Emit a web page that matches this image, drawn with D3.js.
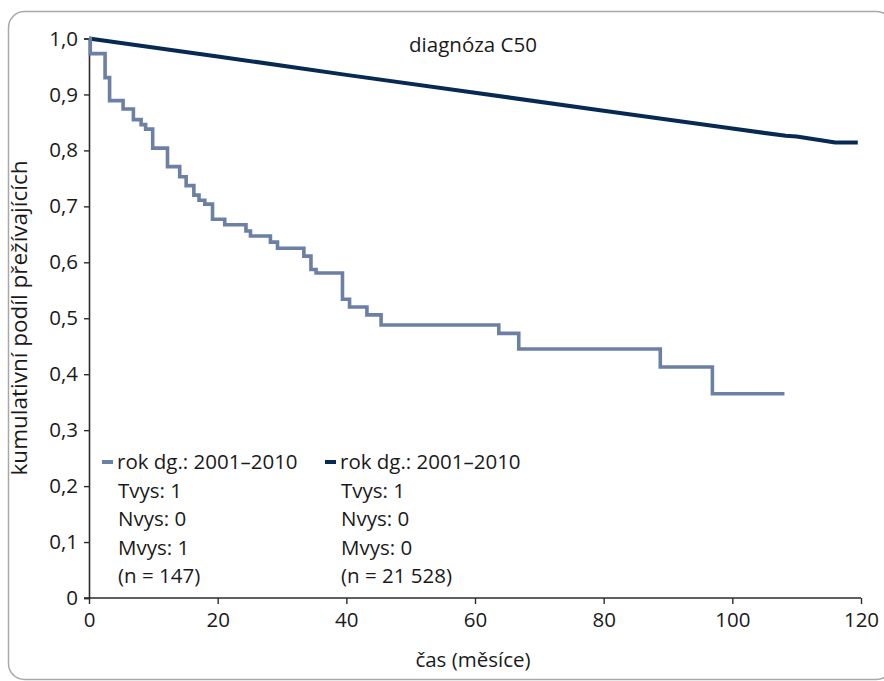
<!DOCTYPE html>
<html>
<head>
<meta charset="utf-8">
<script src="https://cdn.jsdelivr.net/npm/d3@7"></script>
<style>
  body { margin: 0; background: #fff; }
  svg text { font-family: "Open Sans", "Noto Sans", sans-serif; fill: #1a1a1a; }
</style>
</head>
<body>
<div id="chart"></div>
<script>
// Kaplan-Meier, small cohort (step curve)
const smallTime = [0, 0.2, 2.5, 3.2, 5.3, 6.9, 8.1, 8.8, 9.9, 12.2, 14.1, 15.1, 16.3, 17.1, 18.0, 19.2,
  21.1, 24.4, 25.1, 28.2, 29.3, 33.4, 34.5, 35.3, 39.4, 40.5, 43.2, 45.4, 63.7, 66.8, 88.8, 96.9, 108.1];
const smallSurv = [1.0, 0.973, 0.930, 0.889, 0.874, 0.855, 0.846, 0.838, 0.804, 0.771, 0.753, 0.737, 0.720, 0.711, 0.704, 0.677,
  0.667, 0.656, 0.647, 0.636, 0.625, 0.611, 0.587, 0.581, 0.534, 0.520, 0.506, 0.488, 0.473, 0.445, 0.413, 0.365, 0.365];

// whole population
const allTime = [0, 20, 40, 60, 80, 100, 108.3, 110, 116, 119.5];
const allSurv = [1.0, 0.968, 0.935, 0.903, 0.871, 0.839, 0.826, 0.825, 0.814, 0.814];

const xTicks = [0, 20, 40, 60, 80, 100, 120];
const yTicks = [0, 0.1, 0.2, 0.3, 0.4, 0.5, 0.6, 0.7, 0.8, 0.9, 1.0];

const legendItems = [
  { color: '#6b80a4', lines: ['rok dg.: 2001–2010', 'Tvys: 1', 'Nvys: 0', 'Mvys: 1', '(n = 147)'] },
  { color: '#082a52', lines: ['rok dg.: 2001–2010', 'Tvys: 1', 'Nvys: 0', 'Mvys: 0', '(n = 21 528)'] }
];

const width = 884, height = 681;
const margin = { top: 38.5, right: 23, bottom: 83, left: 89 };
const fontSize = '20.5px';

const svg = d3.select('#chart').append('svg')
  .attr('width', width)
  .attr('height', height);

// frame
svg.append('rect')
  .attr('x', 8.5).attr('y', 11.5)
  .attr('width', 884).attr('height', 668)
  .attr('rx', 16)
  .attr('fill', 'none')
  .attr('stroke', '#a8a8a8')
  .attr('stroke-width', 1.5);

const x = d3.scaleLinear().domain([0, 120]).range([margin.left, width - margin.right]);
const y = d3.scaleLinear().domain([0, 1]).range([height - margin.bottom, margin.top]);

const fmt = d => d === 0 ? '0' : d3.format('.1f')(d).replace('.', ',');

// axes
const yAxis = svg.append('g')
  .attr('transform', `translate(${margin.left},0)`)
  .call(d3.axisLeft(y).tickValues(yTicks).tickFormat(fmt).tickSize(5).tickPadding(6));

const xAxis = svg.append('g')
  .attr('transform', `translate(0,${height - margin.bottom})`)
  .call(d3.axisBottom(x).tickValues(xTicks).tickSize(6).tickPadding(8));

[xAxis, yAxis].forEach(a => {
  a.select('.domain').attr('stroke', '#2b2b2b').attr('stroke-width', 1.6);
  a.selectAll('.tick line').attr('stroke', '#2b2b2b').attr('stroke-width', 1.4);
  a.selectAll('.tick text').style('font-size', fontSize).attr('fill', '#1a1a1a');
});
xAxis.select('.domain').attr('d', `M${x(0) - 5},0H${x(120)}`);

// curves
const line = d3.line()
  .x(d => x(d[0]))
  .y(d => y(d[1]));

svg.append('path')
  .datum(allTime.map((t, i) => [t, allSurv[i]]))
  .attr('d', line)
  .attr('fill', 'none')
  .attr('stroke', legendItems[1].color)
  .attr('stroke-width', 4)
  .attr('stroke-linejoin', 'round');

svg.append('path')
  .datum(smallTime.map((t, i) => [t, smallSurv[i]]))
  .attr('d', line.curve(d3.curveStepAfter))
  .attr('fill', 'none')
  .attr('stroke', legendItems[0].color)
  .attr('stroke-width', 3.6);

// title
svg.append('text')
  .attr('x', 473).attr('y', 52)
  .attr('text-anchor', 'middle')
  .style('font-size', fontSize)
  .text('diagnóza C50');

// axis titles
svg.append('text')
  .attr('x', 473).attr('y', 667)
  .attr('text-anchor', 'middle')
  .style('font-size', fontSize)
  .text('čas (měsíce)');

svg.append('text')
  .attr('transform', 'translate(27,318) rotate(-90)')
  .attr('text-anchor', 'middle')
  .style('font-size', '22.5px')
  .text('kumulativní podíl přežívajících');

// legend
const legendX = [102, 325];
legendItems.forEach((item, i) => {
  const g = svg.append('g').attr('transform', `translate(${legendX[i]},0)`);
  g.append('line')
    .attr('x1', 0).attr('x2', 11)
    .attr('y1', 462).attr('y2', 462)
    .attr('stroke', item.color)
    .attr('stroke-width', 4);
  item.lines.forEach((t, j) => {
    g.append('text')
      .attr('x', j === 0 ? 15 : 16)
      .attr('y', 469 + j * 28.5)
      .style('font-size', fontSize)
      .text(t);
  });
});
</script>
</body>
</html>
